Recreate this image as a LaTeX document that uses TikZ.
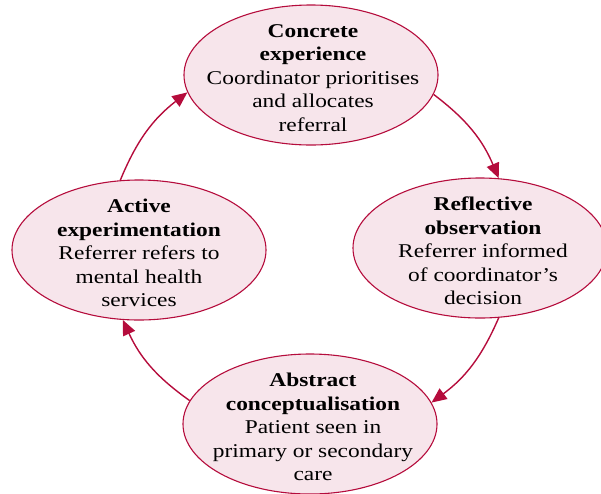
\documentclass[tikz,border=0pt]{standalone}
\usepackage{fontspec}
\setmainfont{Liberation Serif}[FakeStretch=1.2]
\usetikzlibrary{shapes.geometric,arrows.meta}
\definecolor{kline}{RGB}{181,12,60}
\definecolor{kfill}{RGB}{247,229,235}
\tikzset{
  stage/.style={ellipse, draw=kline, fill=kfill, line width=1.1pt, minimum width=254pt, minimum height=140pt, inner sep=0pt},
  stagetext/.style={align=center, inner sep=0pt, font=\fontsize{19.5}{23.5}\selectfont},
  cycarrow/.style={draw=kline, line width=1.4pt, -{Triangle[length=15pt,width=13pt]}, bend left=15}
}
\begin{document}
\begin{tikzpicture}[x=1pt,y=-1pt]
\useasboundingbox (0,0) rectangle (601,493);
\node[stage] (top) at (311,75) {};
\node[stage] (right) at (480,248) {};
\node[stage] (bottom) at (310,424) {};
\node[stage] (left) at (139,250) {};
\node[stagetext] (toptext) at (313,78) {\textbf{Concrete}\\\textbf{experience}\\Coordinator prioritises\\and allocates\\referral};
\node[stagetext] (righttext) at (483,251) {\textbf{Reflective}\\\textbf{observation}\\Referrer informed\\of coordinator’s\\decision};
\node[stagetext] (bottomtext) at (313,427) {\textbf{Abstract}\\\textbf{conceptualisation}\\Patient seen in\\primary or secondary\\care};
\node[stagetext] (lefttext) at (139,253) {\textbf{Active}\\\textbf{experimentation}\\Referrer refers to\\mental health\\services};
\draw[cycarrow] (top.-9) to (right.75);
\draw[cycarrow] (right.-75) to (bottom.10);
\draw[cycarrow] (bottom.169) to (left.-103);
\draw[cycarrow] (left.105) to (top.188);
\end{tikzpicture}
\end{document}
